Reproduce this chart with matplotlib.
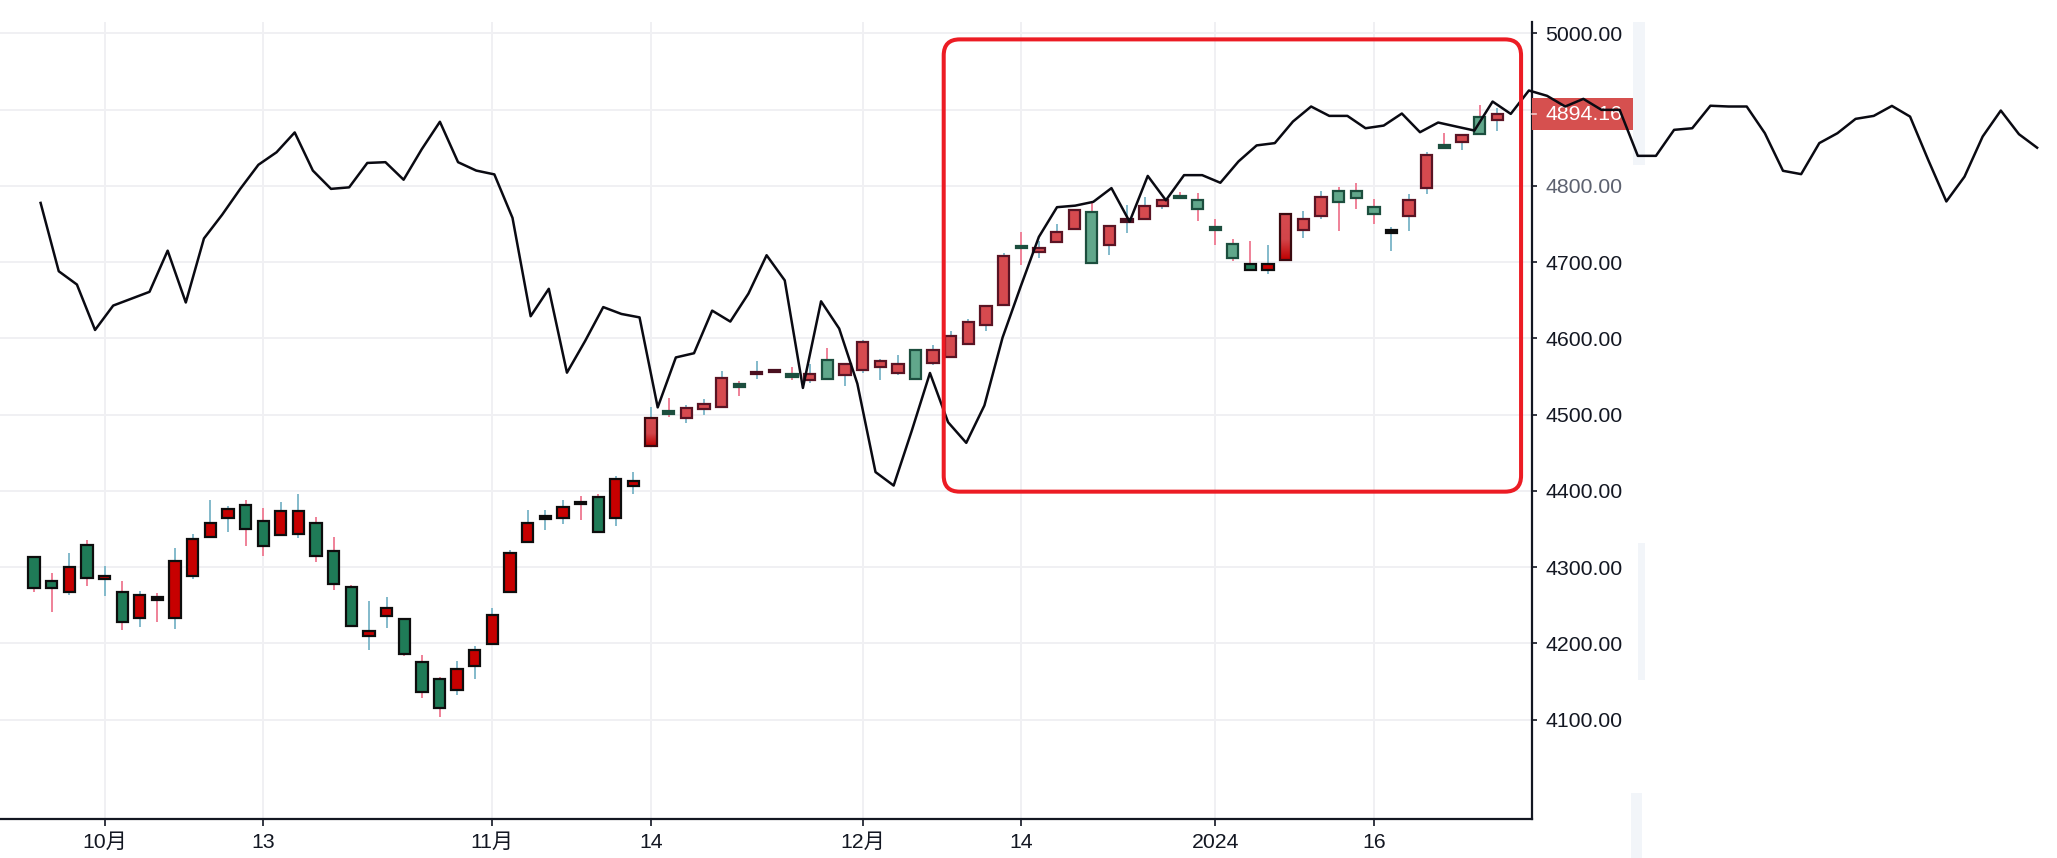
import numpy as np
import matplotlib
matplotlib.use("Agg")
import matplotlib.pyplot as plt
from matplotlib.patches import Rectangle, FancyBboxPatch
from matplotlib.colors import LinearSegmentedColormap
from matplotlib.transforms import blended_transform_factory

# ---------------- data ----------------
tick_pos = [4, 13, 26, 35, 47, 56, 67, 76]
tick_labels = ["10月", "13", "11月", "14", "12月", "14", "2024", "16"]

opens = [4313, 4282, 4267, 4329, 4284, 4268, 4233, 4259.5, 4233, 4289,
         4339, 4365, 4382, 4360, 4342, 4344, 4358, 4321, 4274, 4210,
         4236, 4232, 4176, 4153, 4139, 4171, 4199, 4267, 4333, 4365,
         4365, 4384.5, 4392, 4365, 4407, 4459, 4503.5, 4495, 4508, 4510,
         4538, 4554, 4557, 4552, 4545, 4572, 4552, 4558, 4563, 4555,
         4585, 4568, 4576, 4592, 4618, 4644, 4720, 4713, 4726, 4744,
         4766, 4723, 4754, 4757, 4773, 4785.5, 4782, 4744, 4724, 4698,
         4690, 4703, 4742, 4760, 4793, 4793, 4772, 4739.5, 4760, 4797,
         4852, 4857, 4890, 4886]
highs = [4315, 4292, 4319, 4335, 4301, 4282, 4269, 4266, 4325, 4343,
         4388, 4380, 4388, 4377, 4385, 4396, 4366, 4340, 4277, 4256,
         4261, 4233, 4185, 4156, 4177, 4196, 4246, 4322, 4375, 4375,
         4388, 4393, 4396, 4419, 4425, 4510, 4522, 4512, 4520, 4557,
         4544, 4570, 4558, 4562, 4566, 4588, 4567, 4598, 4573, 4578,
         4586, 4591, 4609, 4625, 4643, 4712, 4740, 4728, 4750, 4769,
         4777, 4748, 4775, 4785, 4783, 4792, 4790, 4756, 4730, 4727,
         4722, 4764, 4767, 4793, 4799, 4804, 4783, 4746, 4789, 4844,
         4869, 4867, 4906, 4902]
lows = [4267, 4241, 4264, 4275, 4262, 4217, 4222, 4228, 4219, 4285,
        4338, 4346, 4328, 4314, 4341, 4338, 4307, 4270, 4223, 4191,
        4220, 4183, 4128, 4104, 4132, 4154, 4199, 4267, 4333, 4349,
        4356, 4362, 4346, 4354, 4396, 4459, 4497, 4489, 4499, 4510,
        4525, 4547, 4556, 4546, 4542, 4546, 4538, 4555, 4546, 4552,
        4546, 4565, 4576, 4592, 4609, 4644, 4696, 4706, 4726, 4744,
        4699, 4709, 4738, 4757, 4769, 4785, 4754, 4722, 4702, 4690,
        4684, 4703, 4731, 4757, 4741, 4770, 4750, 4715, 4741, 4789,
        4851, 4847, 4868, 4872]
closes = [4273, 4273, 4300, 4286, 4289, 4228, 4263, 4258.5, 4308, 4337,
          4358, 4376, 4350, 4328, 4374, 4374, 4315, 4278, 4223, 4216,
          4247, 4186, 4136, 4115, 4166, 4192, 4237, 4318, 4358, 4366,
          4379, 4384, 4346, 4416, 4413, 4495, 4503, 4509, 4514, 4548,
          4537.5, 4555, 4557.5, 4551.5, 4553, 4547, 4566, 4595, 4570, 4566,
          4547, 4585, 4603, 4621, 4642, 4708, 4719.5, 4719, 4740, 4768,
          4699, 4747, 4754.5, 4774, 4782, 4785, 4770, 4743.5, 4705, 4690,
          4698, 4763, 4756, 4785, 4779, 4784, 4763, 4740, 4782, 4840,
          4851.5, 4866, 4868, 4894.16]
# candle rendering group: s = saturated, l = light, g = gradient
candle_style = "s" * 35 + "g" + "l" * 33 + "ssg" + "l" * 5 + "s" + "l" * 6

overlay_line = [4777.6, 4688, 4670.6, 4611, 4643, 4652, 4661, 4715, 4647, 4731,
                4762, 4796, 4827.6, 4844, 4870, 4820, 4796, 4798, 4830, 4831,
                4808, 4848, 4884, 4831, 4820, 4815, 4758, 4629, 4665, 4555,
                4596.5, 4641, 4632, 4627.5, 4509.5, 4575, 4580.5, 4636.4, 4622, 4658.7,
                4709, 4676, 4535, 4648.6, 4612.8, 4540.6, 4424.7, 4407, 4479, 4554.6,
                4490, 4463, 4512, 4601, 4668, 4733, 4772, 4774, 4779, 4797,
                4753, 4813, 4781, 4814, 4814, 4804, 4832, 4853, 4856, 4884.3,
                4904, 4891.7, 4891.7, 4875.5, 4879, 4894.8, 4870.3, 4883, 4877.7, 4872.5,
                4910.5, 4894.3, 4925, 4918, 4904, 4914, 4899.6, 4899.6, 4839.3, 4839.3,
                4873.4, 4875.5, 4905, 4904, 4904, 4869, 4819.7, 4815.3, 4856, 4869,
                4887.8, 4891.7, 4904.8, 4890.8, 4834, 4779.5, 4812, 4864.6, 4898.7, 4867.7,
                4850]
last_price = closes[-1]
y_ticks = list(range(4100, 5001, 100))
highlight = dict(x0=51.6, x1=84.35, y0=4399, y1=4992)

# ---------------- figure ----------------
W, H = 2057, 858
fig = plt.figure(figsize=(W / 100, H / 100), dpi=100)
fig.patch.set_facecolor("white")

ax_bottom = (H - 819) / H
ax_height = (819 - 22) / H
axis_px = 1532
ax = fig.add_axes([0, ax_bottom, axis_px / W, ax_height], zorder=0)
ax.set_xlim(-1.93, 84.97)
ylim = (3969.8, 5014.8)
ax.set_ylim(*ylim)

dark = "#131722"
FS = 15.3
for s in ("left", "top"):
    ax.spines[s].set_visible(False)
for s in ("right", "bottom"):
    ax.spines[s].set_color(dark)
    ax.spines[s].set_linewidth(1.6)

ax.yaxis.tick_right()
ax.set_yticks(y_ticks)
ax.set_yticklabels([f"{v:.2f}" for v in y_ticks])
ax.set_xticks(tick_pos)
ax.set_xticklabels(tick_labels)
font_list = ["Liberation Sans", "Noto Sans CJK SC", "DejaVu Sans"]
ax.tick_params(axis="y", direction="out", length=3.3, width=1.2, pad=6.5, colors=dark)
ax.tick_params(axis="x", direction="out", length=5, width=1.2, pad=5, colors=dark)
for lab in ax.get_xticklabels() + ax.get_yticklabels():
    lab.set_fontfamily(font_list)
    lab.set_fontsize(FS)
    lab.set_color(dark)
for lab, v in zip(ax.get_yticklabels(), y_ticks):
    if v == 4800:
        lab.set_color("#5d6270")
ax.grid(True, color="#f0f0f3", linewidth=1.4)
ax.set_axisbelow(True)

# ---------------- candles ----------------
pink, blue = "#ef8198", "#83bacb"
sty = {
    "s": dict(up="#c70000", down="#1f7b57", edge="#0d0d0d", edge_dn="#0d0d0d", doji="#0d0d0d", doji_dn="#0d0d0d"),
    "l": dict(up="#d64a4f", down="#61a78b", edge="#5a1424", edge_dn="#1c4e3e", doji="#4a1020", doji_dn="#1c4e3e"),
    "g": dict(up="#d64a4f", down="#61a78b", edge="#3a0a10", edge_dn="#1c4e3e", doji="#3a0a10", doji_dn="#1c4e3e"),
}
grad_cmap = LinearSegmentedColormap.from_list(
    "grad", [(0, "#bf0000"), (0.45, "#d2454a"), (1, "#d64a4f")])
bw = 0.64
for i, (o, h, l, c, st) in enumerate(zip(opens, highs, lows, closes, candle_style)):
    up = c >= o
    ax.vlines(i, l, h, color=blue if up else pink, lw=1.4, zorder=2)
    p = sty[st]
    diff = abs(c - o)
    edge = p["edge"] if up else p["edge_dn"]
    if diff < 2:
        mid = (o + c) / 2
        fc = p["doji"] if up else p["doji_dn"]
        ax.add_patch(Rectangle((i - bw / 2, mid - 1.8), bw, 3.6, facecolor=fc,
                               edgecolor=fc, lw=1.6, zorder=3))
        continue
    bottom = min(o, c)
    if st == "g":
        rect = Rectangle((i - bw / 2, bottom), bw, diff, facecolor="none",
                         edgecolor=edge, lw=1.6, zorder=3.2)
        ax.add_patch(rect)
        im = ax.imshow(np.linspace(0, 1, 200).reshape(-1, 1), cmap=grad_cmap,
                       extent=[i - bw / 2, i + bw / 2, bottom, bottom + diff],
                       origin="lower", aspect="auto", zorder=3)
        im.set_clip_path(rect)
    else:
        ax.add_patch(Rectangle((i - bw / 2, bottom), bw, diff,
                               facecolor=p["up"] if up else p["down"],
                               edgecolor=edge, lw=1.6, zorder=3))
ax.set_xlim(-1.93, 84.97)
ax.set_ylim(*ylim)

# last price label
bt = blended_transform_factory(ax.transAxes, ax.transData)
ax.add_patch(Rectangle((1.0, last_price - 20.8), 101 / axis_px, 41.6, transform=bt,
                       facecolor="#d6504f", edgecolor="none", clip_on=False, zorder=5))
ax.text(1 + 13 / axis_px, last_price, f"{last_price:.2f}", transform=bt, color="white",
        fontsize=FS, fontfamily=font_list, va="center", ha="left", clip_on=False, zorder=6)
ax.plot([1.0, 1 + 4 / axis_px], [last_price, last_price], transform=bt, color="#f3c9c9",
        lw=1.2, clip_on=False, zorder=7)

# faint strips (pasted artefacts)
for (x, y0, w, hh) in [(1633, 22, 12, 143), (1638, 543, 7, 137), (1631, 793, 11, 65)]:
    fig.patches.append(Rectangle((x / W, 1 - (y0 + hh) / H), w / W, hh / H,
                                 transform=fig.transFigure, facecolor="#f0f4f8",
                                 edgecolor="none", alpha=0.85, zorder=2))

# ---------------- overlay line ----------------
ax2 = fig.add_axes([0, ax_bottom, 1, ax_height], zorder=5)
ax2.set_axis_off()
ax2.patch.set_alpha(0)
sp = 18.15
x0px = 40.6
ax2.set_xlim(-x0px / sp, (W - x0px) / sp)
ax2.set_ylim(*ylim)
ax2.plot(np.arange(len(overlay_line)), overlay_line, color="#0a0a12", lw=1.8)

# ---------------- highlight box ----------------
fig.canvas.draw()
(px0, py0), (px1, py1) = ax.transData.transform(
    [(highlight["x0"], highlight["y0"]), (highlight["x1"], highlight["y1"])])
box = FancyBboxPatch((px0, py0), px1 - px0, py1 - py0,
                     boxstyle="round,pad=0,rounding_size=16",
                     facecolor="none", edgecolor="#ec1c24", lw=2.9,
                     transform=None, zorder=10)
fig.patches.append(box)

fig.savefig("out.png", dpi=100)
